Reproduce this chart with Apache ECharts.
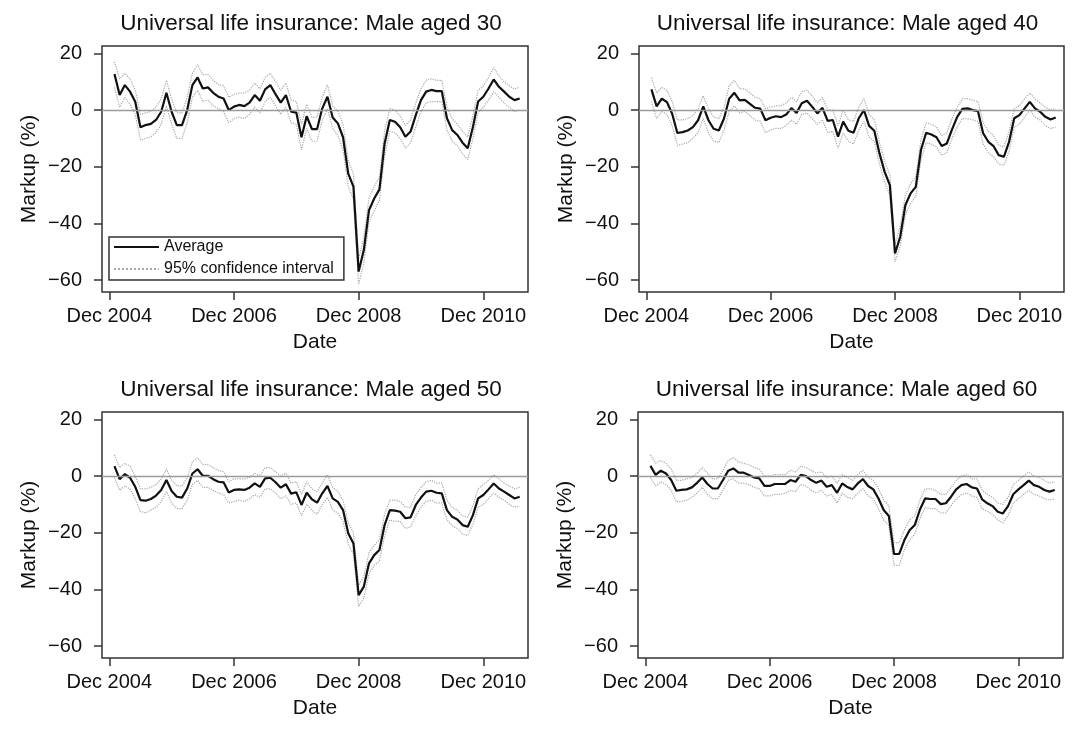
<!DOCTYPE html>
<html>
<head>
<meta charset="utf-8">
<script src="https://cdn.jsdelivr.net/npm/echarts@6/dist/echarts.min.js"></script>
<style>html,body{margin:0;padding:0;background:#fff}#main{width:1072px;height:731px}</style>
</head>
<body>
<div id="main"></div>
<script>
// markup (%) by month, Jan 2005 .. Jul 2011 (month 0 = Dec 2004)
var ages = [30, 40, 50, 60];

var avg30 = [12.7,5.3,8.8,6.5,2.9,-6.1,-5.3,-4.9,-3.5,-0.6,6.1,-0.6,-5.3,-5.3,0,8.8,11.5,7.6,8,6.1,4.7,4.1,0,1.2,1.8,1.4,2.6,5.3,3.3,7.3,8.8,5.6,2.6,5.3,-0.6,-0.9,-9.6,-2.2,-6.7,-6.7,0.6,4.7,-2.6,-4.7,-9.6,-22.4,-27,-57,-49.4,-35.3,-31.2,-28,-11.8,-3.5,-4.1,-6.1,-9.4,-7.6,-1.8,3.5,6.5,7.1,6.7,6.7,-2.9,-7.1,-8.8,-11.5,-13.5,-6,3,4.7,7.6,10.8,8.2,6.5,4.7,3.5,4.1];
var upper30 = [17,11,13,11,7,-1.5,-1,-0.5,1,4,10.5,4,-1,-1,4.5,13,16,12.5,12.5,10.5,9,8.5,4.5,5.5,6,6,7,9.5,7.5,11.5,13,10,7,9.5,3.5,3,-5,2,-2.5,-2.5,4.5,9,1.5,-0.5,-5,-18,-22.5,-52.5,-45,-31,-27,-23.5,-7.5,0.5,0,-2,-5.5,-3.5,2.5,7.5,10.5,11,10.5,10.5,1,-3,-5,-7.5,-9.5,-2,7,8.5,11.5,15,12,10,8.5,7.5,8];
var lower30 = [8,1,4.5,2,-1.5,-10.5,-10,-9.5,-8,-5,1.5,-5,-10,-10,-4.5,4.5,7,3,3.5,1.5,0.5,-0.5,-4.5,-3,-2.5,-3,-1.5,1,-1,3,4.5,1.5,-1.5,1,-4.5,-5,-14,-6.5,-11,-11,-3.5,0.5,-6.5,-9,-14,-27,-31.5,-61.5,-54,-39.5,-35.5,-32,-16,-7.5,-8,-10,-13.5,-11.5,-6,-0.5,2.5,3,3,3,-7,-11,-12.5,-15.5,-17.5,-10,-1,1,3.5,6.5,4.5,2.5,1,-0.5,0];

var avg40 = [7.3,1.3,4,2.8,-1.3,-8.1,-7.8,-7.2,-6,-3.6,1.3,-3.6,-6.6,-7.2,-3,4,6.1,3.4,3.6,2.2,0.8,0.5,-3.6,-2.7,-2.2,-2.5,-1.6,0.7,-1,2.4,3.3,1.2,-1.2,0.8,-3.8,-3.5,-9.4,-4.1,-7.3,-8,-2.9,0,-5.6,-7.3,-15.3,-21.8,-26.5,-50.6,-44.7,-33.5,-29.4,-27.1,-14.1,-8,-8.6,-9.6,-12.7,-11.8,-6.8,-2.4,0.4,0.6,0,-0.4,-8.2,-11.2,-12.7,-15.9,-16.5,-11.2,-2.9,-1.8,0.6,2.9,0.6,-0.6,-2.4,-3.3,-2.6];
var upper40 = [11.5,6,8,7,3,-3.5,-3.5,-3,-2,0.5,5,0.5,-2.5,-3,1,8.5,10.5,7.5,7.5,6,4.5,4,0.5,1,1.5,1.5,2.5,4.5,3,6.5,7,5,2.5,4.5,0,0,-5.5,0,-3.5,-4,1,4,-1.5,-3.5,-11.5,-18,-23,-47.5,-41,-30,-26,-23.5,-10.5,-4.5,-5,-6,-9,-8,-3,1,4,4,3.5,3,-4.5,-7.5,-9,-12.5,-13,-7.5,0.5,1.5,4,6,4,2.5,1,0,0.5];
var lower40 = [3,-3,-0.5,-1.5,-5.5,-12.5,-12,-11.5,-10,-8,-3,-8,-11,-11.5,-7,-0.5,1.5,-1,-0.5,-2,-3.5,-4,-8,-7,-6.5,-6.5,-5.5,-3.5,-5,-1.5,-1,-3,-5,-3.5,-8,-7.5,-13.5,-8,-11,-12,-7,-4,-9.5,-11,-19,-25.5,-30,-53.5,-48,-37,-33,-30.5,-17.5,-11.5,-12,-13,-16,-15,-10,-6,-3,-3,-3.5,-4,-12,-15,-16.5,-19,-19.5,-14.5,-6,-5,-2.5,0,-2.5,-3.5,-5.5,-6.5,-6];

var avg50 = [3.5,-1.1,0.7,-0.6,-3.8,-8.5,-8.7,-8.1,-6.9,-4.9,-1.4,-5.3,-7.3,-7.6,-4.4,0.9,2.4,0.1,0.1,-1.1,-2,-2.2,-5.8,-4.9,-4.7,-4.9,-4.1,-2.6,-3.8,-0.8,-0.6,-2.2,-4.1,-2.9,-6.2,-5.7,-10.2,-5.9,-8.2,-9.4,-6.1,-3.5,-7.9,-9.1,-12,-20.2,-23.8,-42,-39,-30.8,-27.9,-26.1,-17.3,-12,-12.2,-12.6,-14.9,-14.6,-10.2,-7.6,-5.5,-5.2,-5.9,-6.1,-12,-14.4,-15.3,-17.3,-17.9,-13.8,-7.9,-6.7,-4.7,-2.6,-4.4,-5.5,-6.7,-7.9,-7.3];
var upper50 = [7.5,3,4.5,3.5,0,-4.5,-4.5,-4,-3,-1,2.5,-1.5,-3.5,-3.5,-0.5,5,6.5,4,4,3,2,1.5,-2,-1,-1,-1,-0.5,1,0,3,3,1.5,0,1,-2.5,-2,-6.5,-2,-4.5,-5.5,-2.5,0.5,-4,-5.5,-8.5,-16.5,-20,-38.5,-35.5,-27,-24.5,-22.5,-13.5,-8.5,-8.5,-9,-11,-11,-6.5,-4,-2,-1.5,-2.5,-2.5,-8.5,-11,-12,-14,-14.5,-10.5,-4.5,-3,-1.5,0.5,-1,-2.5,-3.5,-4.5,-4];
var lower50 = [-0.5,-5,-3.5,-4.5,-8,-12.5,-13,-12,-11,-9,-5.5,-9.5,-11.5,-11.5,-8.5,-3,-1.5,-4,-4,-5,-6,-6.5,-9.5,-9,-8.5,-9,-8,-6.5,-7.5,-4.5,-4.5,-6,-8,-7,-10,-9.5,-14,-10,-12,-13.5,-10,-7.5,-12,-13,-16,-24,-27.5,-46,-43,-34.5,-31.5,-30,-21,-15.5,-16,-16,-18.5,-18,-14,-11,-9,-8.5,-9.5,-9.5,-15.5,-17.5,-18.5,-20.5,-21,-17,-11,-10,-8,-6,-7.5,-8.5,-10,-11,-10.5];

var avg60 = [3.6,0.4,1.9,0.9,-1.4,-5.2,-4.9,-4.7,-4,-2.4,-0.5,-2.8,-4.4,-4.4,-1.4,1.9,2.7,1.2,1.2,0.4,-0.5,-0.8,-3.5,-3.5,-2.8,-2.8,-2.8,-1.4,-2,0.4,0,-1.4,-2.4,-1.6,-3.8,-3.2,-5.9,-2.6,-3.9,-4.7,-2.6,-1.1,-3.5,-4.7,-7.9,-12,-14.1,-27.5,-27.5,-22.6,-19.1,-17.3,-11.8,-7.9,-8.1,-8.1,-9.9,-9.6,-7.3,-4.7,-3.2,-2.8,-4,-4.4,-8.2,-9.6,-10.6,-12.6,-13.2,-10.6,-6.4,-4.7,-3.2,-1.6,-3.2,-3.8,-4.9,-5.5,-4.9];
var upper60 = [7.5,4.5,5.5,4.5,2.5,-1.5,-1.5,-1,-0.5,1,3,1,-1,-1,2,5.5,6.5,5,4.5,4,3,2.5,0,0,0.5,0.5,0.5,2,1.5,3.5,3,2,1,1.5,-0.5,0,-2.5,0.5,-0.5,-1.5,0.5,2,-0.5,-1.5,-4.5,-8.5,-10.5,-23.5,-23.5,-19,-15.5,-14,-8.5,-4.5,-4.5,-5,-6.5,-6.5,-4,-1.5,0,0.5,-1,-1,-5,-6.5,-7.5,-9.5,-10,-7.5,-3,-1.5,0,1.5,0,-0.5,-1.5,-2.5,-2];
var lower60 = [-0.5,-3.5,-2,-3,-5,-9,-9,-8.5,-7.5,-6,-4,-6.5,-8,-8,-5,-1.5,-1,-2.5,-2.5,-3,-4,-4.5,-7,-7,-6.5,-6.5,-6,-5,-5.5,-3,-3.5,-5,-6,-5,-7,-6.5,-9.5,-6,-7.5,-8,-6,-4.5,-7,-8,-11.5,-15.5,-17.5,-31.5,-31.5,-26,-22.5,-20.5,-15,-11,-11.5,-11.5,-13,-13,-10.5,-8,-6.5,-6,-7,-7.5,-11.5,-12.5,-13.5,-15.5,-16.5,-14,-9.5,-8,-6.5,-5,-6.5,-7,-8,-8.5,-8];

var xTickMonths = [0, 24, 48, 72];
var xTickLabels = ['Dec 2004', 'Dec 2006', 'Dec 2008', 'Dec 2010'];
var yTicks = [-60, -40, -20, 0, 20];

var avgs = [avg30, avg40, avg50, avg60];
var uppers = [upper30, upper40, upper50, upper60];
var lowers = [lower30, lower40, lower50, lower60];

var font = 'Liberation Sans, Arial, Helvetica, sans-serif';
var ink = '#111';
var frame = '#333';

// plot boxes in pixels
var boxes = [
	{left: 102, top: 46, width: 426, height: 246},
	{left: 639, top: 46, width: 425, height: 246},
	{left: 102, top: 412, width: 426, height: 246},
	{left: 638, top: 412, width: 425, height: 246}
];

function pairs(arr) {
	var out = [];
	for (var i = 0; i < arr.length; i++) {
		out.push([i + 1, arr[i]]);
	}
	return out;
}

var grids = [], xAxes = [], yAxes = [], titles = [], series = [];

for (var p = 0; p < 4; p++) {
	var b = boxes[p];
	grids.push({
		left: b.left, top: b.top, width: b.width, height: b.height,
		show: true, borderColor: frame, borderWidth: 1.5, backgroundColor: 'transparent'
	});
	titles.push({
		text: 'Universal life insurance: Male aged ' + ages[p],
		left: b.left + b.width / 2 - 9,
		top: b.top - 39,
		textAlign: 'center',
		textStyle: {fontFamily: font, fontSize: 22.5, fontWeight: 'normal', color: ink}
	});
	xAxes.push({
		gridIndex: p,
		type: 'value',
		min: -1.4,
		max: 80.6,
		name: 'Date',
		nameLocation: 'middle',
		nameGap: 40,
		nameTextStyle: {fontFamily: font, fontSize: 21, color: ink},
		axisLine: {show: false, onZero: false},
		axisTick: {show: true, length: 8, customValues: xTickMonths, lineStyle: {color: frame, width: 1.5}},
		axisLabel: {
			customValues: xTickMonths,
			margin: 14,
			fontFamily: font, fontSize: 20, color: ink,
			formatter: function (v) {
				var k = xTickMonths.indexOf(v);
				return k >= 0 ? xTickLabels[k] : '';
			}
		},
		splitLine: {show: false}
	});
	yAxes.push({
		gridIndex: p,
		type: 'value',
		min: -64.2,
		max: 22.6,
		name: 'Markup (%)',
		nameLocation: 'middle',
		nameGap: 62,
		nameTextStyle: {fontFamily: font, fontSize: 21, color: ink},
		axisLine: {show: false, onZero: false},
		axisTick: {show: true, length: 8, customValues: yTicks, lineStyle: {color: frame, width: 1.5}},
		axisLabel: {
			customValues: yTicks,
			margin: 20,
			fontFamily: font, fontSize: 20, color: ink,
			formatter: function (v) { return String(v).replace('-', '\u2212'); }
		},
		splitLine: {show: false}
	});
	series.push({
		name: '95% confidence interval',
		type: 'line',
		xAxisIndex: p, yAxisIndex: p,
		data: pairs(uppers[p]),
		symbol: 'none',
		z: 2,
		lineStyle: {color: '#a8a8a8', width: 1.2, type: 'dotted'},
		markLine: {
			silent: true,
			symbol: ['none', 'none'],
			label: {show: false},
			lineStyle: {color: '#9a9a9a', type: 'solid', width: 1.3},
			data: [{yAxis: 0}]
		}
	});
	series.push({
		name: '95% confidence interval',
		type: 'line',
		xAxisIndex: p, yAxisIndex: p,
		data: pairs(lowers[p]),
		symbol: 'none',
		z: 2,
		lineStyle: {color: '#a8a8a8', width: 1.2, type: 'dotted'}
	});
	series.push({
		name: 'Average',
		type: 'line',
		xAxisIndex: p, yAxisIndex: p,
		data: pairs(avgs[p]),
		symbol: 'none',
		z: 3,
		lineStyle: {color: '#111', width: 2.2}
	});
}

var chart = echarts.init(document.getElementById('main'), null, {renderer: 'canvas'});
chart.setOption({
	animation: false,
	backgroundColor: '#fff',
	title: titles,
	legend: {
		data: ['Average', '95% confidence interval'],
		orient: 'vertical',
		left: 109,
		top: 237,
		borderColor: frame,
		borderWidth: 1.5,
		padding: [2, 10, 3, 4],
		itemWidth: 45,
		itemHeight: 14,
		itemGap: 6,
		selectedMode: false,
		itemStyle: {opacity: 0},
		textStyle: {fontFamily: font, fontSize: 16, color: ink}
	},
	grid: grids,
	xAxis: xAxes,
	yAxis: yAxes,
	series: series
});
</script>
</body>
</html>
